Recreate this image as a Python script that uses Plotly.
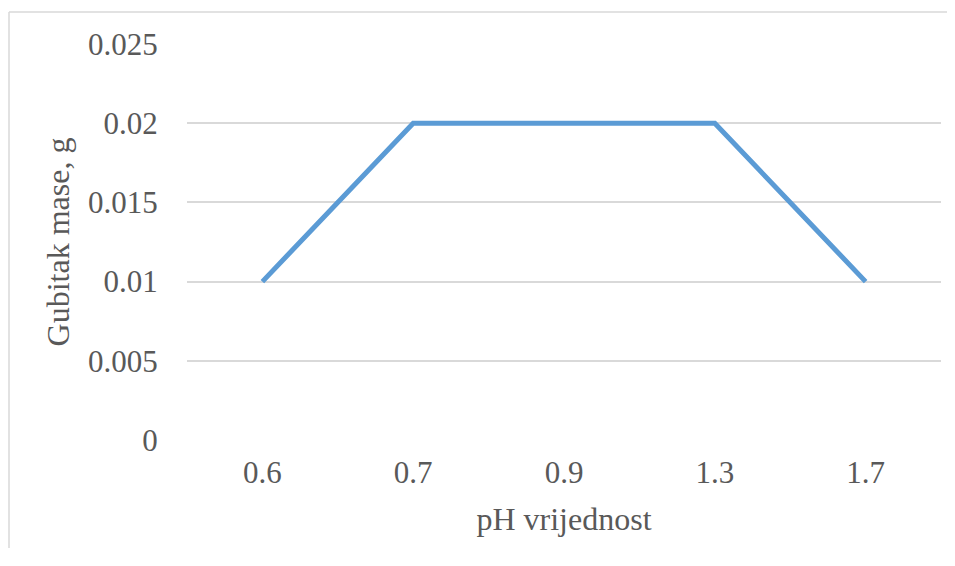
import plotly.graph_objects as go

categories = ["0.6", "0.7", "0.9", "1.3", "1.7"]
mass_loss = [0.01, 0.02, 0.02, 0.02, 0.01]
y_ticks = [0, 0.005, 0.01, 0.015, 0.02, 0.025]
y_tick_labels = ["0", "0.005", "0.01", "0.015", "0.02", "0.025"]

# page body has an 8px default margin; the figure is kept small enough to avoid scrollbars
W, H = 939, 540
L, R, T, B = 179, 6, 36, 108
pw, ph = W - L - R, H - T - B

tick_font = dict(family="Liberation Serif, Times New Roman, serif", size=31, color="#595959")
title_font = dict(family="Liberation Serif, Times New Roman, serif", size=32, color="#595959")

fig = go.Figure()
fig.add_trace(go.Scatter(
    x=categories, y=mass_loss, mode="lines",
    line=dict(color="#5B9BD5", width=5),
    hoverinfo="x+y", showlegend=False,
))

bx = (1 - L) / pw          # chart-area border, left edge
by = (H - B - 4) / ph      # chart-area border, top edge
border = dict(color="#D9D9D9", width=1.5)

fig.update_layout(
    width=W, height=H,
    margin=dict(l=L, r=R, t=T, b=B, autoexpand=False),
    paper_bgcolor="white", plot_bgcolor="white",
    font=tick_font,
    xaxis=dict(
        type="category", range=[-0.5, 4.5],
        showgrid=False, zeroline=False, showline=False,
        ticks="outside", ticklen=5, tickcolor="rgba(0,0,0,0)",
        tickfont=tick_font,
        title=dict(text="pH vrijednost", font=title_font, standoff=18),
    ),
    yaxis=dict(
        range=[0, 0.025],
        tickvals=y_ticks, ticktext=y_tick_labels,
        showgrid=True, gridcolor="#D9D9D9", gridwidth=1.5,
        zeroline=False, showline=False,
        ticks="outside", ticklen=22, tickcolor="rgba(0,0,0,0)",
        tickfont=tick_font,
        title=dict(text="Gubitak mase, g", font=title_font, standoff=8),
    ),
    shapes=[
        dict(type="line", xref="paper", yref="paper", x0=bx, x1=bx,
             y0=-(B + 20) / ph, y1=by, line=border, layer="below"),
        dict(type="line", xref="paper", yref="paper", x0=bx, x1=(W + 20 - L) / pw,
             y0=by, y1=by, line=border, layer="below"),
    ],
)

fig.write_html("out.html")
